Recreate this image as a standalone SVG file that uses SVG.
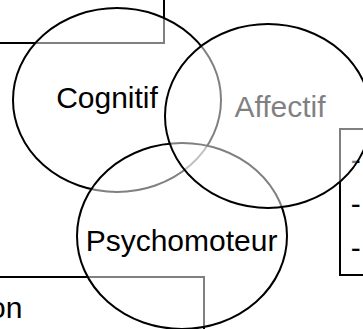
<svg xmlns="http://www.w3.org/2000/svg" width="363" height="329" viewBox="0 0 363 329">
<style>
.box{fill:#fff;stroke:#000;stroke-width:2}
.bubble{fill:#fff;fill-opacity:0.5;stroke:#000;stroke-width:2}
.lbl{font-family:"Liberation Sans",Arial,Helvetica,sans-serif;font-size:30px;fill:#000}
</style>
<rect width="363" height="329" fill="#fff"/>
<g id="box-top-left">
<rect class="box" x="-20" y="-20" width="184" height="63"/>
</g>
<g id="box-bottom-left">
<rect class="box" x="-20" y="277" width="224" height="80"/>
<text class="lbl" x="-11" y="318">on</text>
</g>
<g id="box-right">
<rect class="box" x="340" y="129" width="60" height="146"/>
<text class="lbl" x="350.7" y="170">-</text>
<text class="lbl" x="350.7" y="214">-</text>
<text class="lbl" x="350.7" y="258">-</text>
</g>
<g id="cognitif">
<ellipse class="bubble" cx="117" cy="100" rx="104" ry="92"/>
<text class="lbl" x="107" y="108" text-anchor="middle">Cognitif</text>
</g>
<g id="psychomoteur">
<ellipse class="bubble" cx="182" cy="236" rx="105" ry="93"/>
<text class="lbl" x="181.5" y="251" text-anchor="middle">Psychomoteur</text>
</g>
<g id="affectif">
<text class="lbl" x="280" y="117" text-anchor="middle">Affectif</text>
<ellipse class="bubble" cx="268" cy="116" rx="103" ry="92"/>
</g>
</svg>
